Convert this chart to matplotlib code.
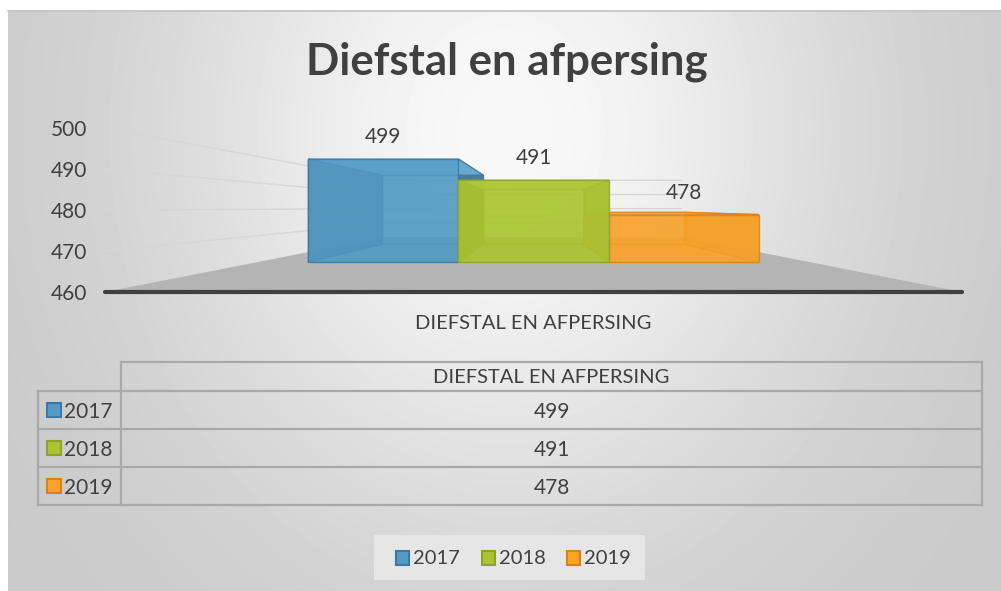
import matplotlib.pyplot as plt
import numpy as np
from matplotlib.patches import Polygon, Rectangle
from matplotlib.colors import to_rgba

plt.rcParams['font.family'] = ['Lato', 'DejaVu Sans']

# data
title = 'Diefstal en afpersing'
category = 'DIEFSTAL EN AFPERSING'
years = ['2017', '2018', '2019']
values = [499, 491, 478]
yticks = [460, 470, 480, 490, 500]

colors = ['#549bc4', '#acc432', '#f9a32b']
edge_colors = ['#3a7aa5', '#8fa32a', '#dc8214']
side_colors = ['#3c7396', '#9aae2a', '#e8921c']
top_colors = ['#6aaed4', '#c8da55', '#fbb450']
text_color = '#404040'

# simple perspective: depth factor s (1 = front of axis), horizon at V_H
V_H = 480.5
S_FRONT = 0.644
S_BACK = 0.432
S_WALL = 0.345
BAR_W = 0.272


def proj(x, v, s):
    return x * s, V_H + (v - V_H) * s


fig = plt.figure(figsize=(10.01, 5.91), dpi=100)

# background, table, legend in pixel coords
bg = fig.add_axes([0, 0, 1, 1])
bg.set_xlim(0, 1001)
bg.set_ylim(591, 0)
bg.axis('off')

yy, xx = np.mgrid[10:591, 8:1001]
d = np.hypot((xx - 505) / 520, (yy - 130) / 620)
g = 200 + 48 * np.exp(-(d / 0.65) ** 2)
bg.imshow(g, cmap='gray', vmin=0, vmax=255, extent=[8, 1001, 591, 10],
          aspect='auto', interpolation='bilinear')
bg.plot([8, 1001], [10.5, 10.5], color='#c4c4c4', lw=1.2)

bg.text(507, 75, title, ha='center', va='baseline', fontsize=31.5,
        fontweight='bold', color=text_color)
bg.text(533, 329, category, ha='center', va='baseline', fontsize=14.5,
        color=text_color)

# main 3d-ish plot
ax = fig.add_axes([105 / 1001, (591 - 292) / 591, 857 / 1001, 164 / 591])
ax.set_zorder(2)
ax.patch.set_visible(False)
ax.set_xlim(-0.5, 0.5)
ax.set_ylim(460, 500)
for sp in ax.spines.values():
    sp.set_visible(False)
ax.set_xticks([])
ax.set_yticks(yticks, [str(t) for t in yticks])
ax.tick_params(axis='y', length=0, pad=13, labelsize=15, labelcolor=text_color)

# wall gridlines
for t in yticks[1:]:
    p0 = proj(-0.5, t, 1)
    p1 = proj(-0.5, t, S_WALL)
    p2 = proj(0.5, t, S_WALL)
    ax.plot([p0[0], p1[0], p2[0]], [p0[1], p1[1], p2[1]], color='#d6d6d6',
            lw=1, clip_on=False, zorder=1)

# floor
floor = [proj(-0.5, yticks[0], 1), proj(0.5, yticks[0], 1),
         proj(0.5, yticks[0], S_WALL), proj(-0.5, yticks[0], S_WALL)]
ax.add_patch(Polygon(floor, closed=True, fc='#b4b4b4', ec='none',
                     clip_on=False, zorder=2))
ax.plot([-0.5, 0.5], [yticks[0], yticks[0]], color=text_color, lw=3,
        solid_capstyle='round', clip_on=False, zorder=3)

# bars, painted from the outside in
base = yticks[0]
n = len(values)
x_starts = [-n / 2 * BAR_W + i * BAR_W for i in range(n)]
order = sorted(range(n), key=lambda i: -abs(x_starts[i] + BAR_W / 2))

z = 4


def face(pts, fc, ec, alpha):
    global z
    z += 0.01
    ax.add_patch(Polygon(pts, closed=True, fc=to_rgba(fc, alpha),
                         ec=to_rgba(ec, 0.8), lw=1, clip_on=False, zorder=z))


for i in order:
    v = values[i]
    x0, x1 = x_starts[i], x_starts[i] + BAR_W
    # back, bottom
    face([proj(x0, base, S_BACK), proj(x1, base, S_BACK),
          proj(x1, v, S_BACK), proj(x0, v, S_BACK)],
         colors[i], edge_colors[i], 0.6)
    face([proj(x0, base, S_FRONT), proj(x1, base, S_FRONT),
          proj(x1, base, S_BACK), proj(x0, base, S_BACK)],
         colors[i], edge_colors[i], 0.6)
    # sides, top
    for xs in (x0, x1):
        face([proj(xs, base, S_FRONT), proj(xs, base, S_BACK),
              proj(xs, v, S_BACK), proj(xs, v, S_FRONT)],
             side_colors[i], edge_colors[i], 0.85)
    face([proj(x0, v, S_FRONT), proj(x1, v, S_FRONT),
          proj(x1, v, S_BACK), proj(x0, v, S_BACK)],
         top_colors[i], edge_colors[i], 0.9)
    # front
    face([proj(x0, base, S_FRONT), proj(x1, base, S_FRONT),
          proj(x1, v, S_FRONT), proj(x0, v, S_FRONT)],
         colors[i], edge_colors[i], 0.8)

for i, v in enumerate(values):
    ax.annotate(str(v), xy=proj(x_starts[i] + BAR_W / 2, v, S_FRONT),
                xytext=(0, 11.5), textcoords='offset points', ha='center',
                va='baseline', fontsize=15, color=text_color, zorder=10)

# data table
t_left, t_mid, t_right = 38, 121, 982
rows = [362, 391, 429, 467, 505]
lc = '#a9a9a9'
bg.plot([t_mid, t_right], [rows[0], rows[0]], color=lc, lw=1.6)
for y in rows[1:]:
    bg.plot([t_left, t_right], [y, y], color=lc, lw=1.6)
bg.plot([t_left, t_left], [rows[1], rows[-1]], color=lc, lw=1.6)
bg.plot([t_mid, t_mid], [rows[0], rows[-1]], color=lc, lw=1.6)
bg.plot([t_right, t_right], [rows[0], rows[-1]], color=lc, lw=1.6)
bg.text((t_mid + t_right) / 2, rows[1] - 8, category, ha='center',
        va='baseline', fontsize=14.5, color=text_color)
for i, (yr, v) in enumerate(zip(years, values)):
    yc = (rows[i + 1] + rows[i + 2]) / 2
    bg.add_patch(Rectangle((46.5, yc - 7.5), 14, 14, fc=colors[i],
                           ec=edge_colors[i], lw=1.5))
    bg.text(64, yc + 7.5, yr, ha='left', va='baseline', fontsize=15,
            color=text_color)
    bg.text((t_mid + t_right) / 2, yc + 7.5, str(v), ha='center',
            va='baseline', fontsize=15, color=text_color)

# legend
bg.add_patch(Rectangle((374, 535), 271, 45, fc='#e6e6e6', ec='none'))
for i, yr in enumerate(years):
    lx = 396 + i * 85.5
    bg.add_patch(Rectangle((lx, 550.5), 13, 14, fc=colors[i],
                           ec=edge_colors[i], lw=1.5))
    bg.text(lx + 17, 564, yr, ha='left', va='baseline', fontsize=14.5,
            color=text_color)

fig.savefig('out.png', dpi=100)
